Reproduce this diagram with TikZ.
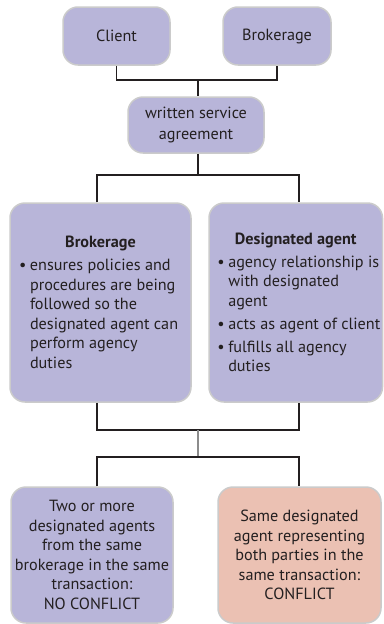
\documentclass[tikz,border=0pt]{standalone}
\usepackage{fontspec}
\setmainfont{PT Sans}
\definecolor{boxpurple}{HTML}{B8B5D9}
\definecolor{boxpink}{HTML}{EBC1B3}
\definecolor{boxedge}{HTML}{CBCBCB}
\definecolor{ink}{HTML}{231F20}
\definecolor{midgray}{HTML}{8C8C8C}
\newcommand\bitem{\par\vspace{3.5pt}\hangindent=11pt\hangafter=1\noindent\makebox[11pt][l]{\textbullet}}
\newcommand\shiftright[1]{\leftskip=#1\rightskip=-#1 plus 2em}
\begin{document}
\begin{tikzpicture}[x=1pt,y=-1pt,
  box/.style={draw=boxedge, line width=1.5pt, fill=boxpurple, rounded corners=15pt,
    inner sep=0pt, text=ink, font=\fontsize{16.2}{19.5}\selectfont, align=center},
  link/.style={draw=ink, line width=1.6pt},
  glink/.style={draw=midgray, line width=1.6pt}]
\useasboundingbox (0,0) rectangle (383,624);
\node[box, minimum width=107, minimum height=58] (client) at (116.5,36) {Client};
\node[box, minimum width=108, minimum height=58] (brok) at (277,36) {Brokerage};
\node[box, minimum width=136, minimum height=56, font=\fontsize{16.2}{21.5}\selectfont] (agree) at (196,125) {written service\\agreement};
\node[box, minimum width=181, minimum height=199] (B) at (100.5,302.5)
 {\parbox{168pt}{\fontsize{16.2}{19.5}\selectfont\centering\textbf{Brokerage}\par\raggedright\shiftright{2.5pt}
  \bitem ensures policies and\newline procedures are being\newline followed so the\newline designated agent can\newline perform agency\newline duties\par}};
\node[box, minimum width=173.5, minimum height=199] (D) at (295.75,302.5)
 {\parbox{164pt}{\fontsize{16.2}{19.5}\selectfont\centering\textbf{Designated agent}\par\raggedright\shiftright{3.5pt}
  \bitem agency relationship is\newline with designated\newline agent
  \bitem acts as agent of client
  \bitem fulfills all agency\newline duties\par}};
\node[box, minimum width=162, minimum height=136] (nc) at (92,555)
 {Two or more\\designated agents\\from the same\\brokerage in the same\\transaction:\\NO CONFLICT};
\node[box, fill=boxpink, minimum width=163, minimum height=136] (cf) at (299.5,555)
 {Same designated\\agent representing\\both parties in the\\same transaction:\\CONFLICT};
% junction coordinates
\coordinate (j1) at (198,80);
\coordinate (j2) at (198,175);
\coordinate (xl) at (97,0);
\coordinate (xr) at (299,0);
\coordinate (j3) at (198,430);
\coordinate (j4) at (198,457);
% top connectors
\draw[link] (client.south) |- (j1) -| (brok.south);
\draw[link] (j1) -- (agree.north -| j1);
\draw[link] (agree.south -| j2) -- (j2);
\draw[link] (B.north -| xl) |- (j2) -| (D.north -| xr);
% lower connectors
\draw[link] (B.south -| xl) |- (j3) -| (D.south -| xr);
\draw[glink] (j3) -- (j4);
\draw[link] (nc.north -| xl) |- (j4) -| (cf.north -| xr);
\end{tikzpicture}
\end{document}
